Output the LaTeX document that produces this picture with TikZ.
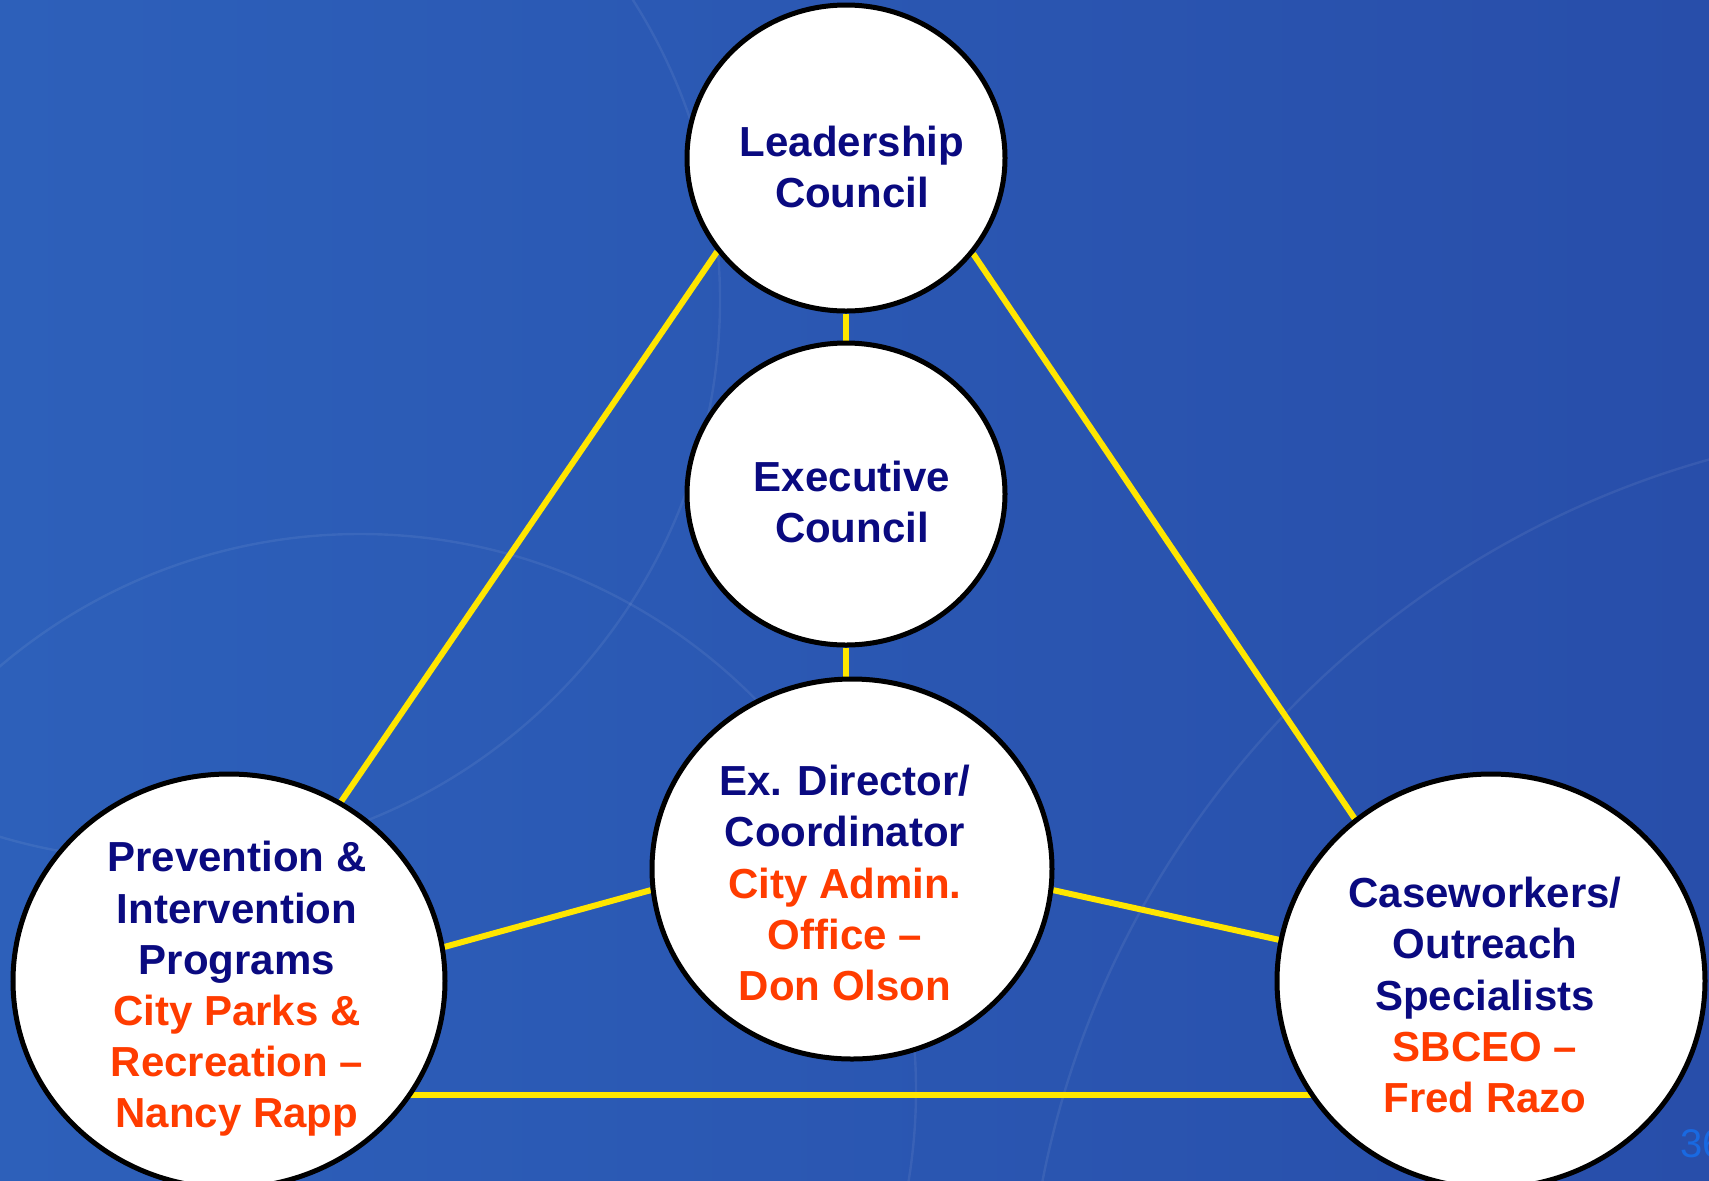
\documentclass[tikz,border=0pt]{standalone}
\usepackage{fontspec}
\setmainfont{Liberation Sans}
\usetikzlibrary{shapes.geometric}
\definecolor{bgL}{RGB}{45,96,186}
\definecolor{bgR}{RGB}{40,78,170}
\definecolor{navy}{RGB}{10,10,128}
\definecolor{orng}{RGB}{255,60,0}
\definecolor{ylw}{RGB}{255,230,0}
\definecolor{pgnum}{RGB}{25,105,225}
\pgfdeclarelayer{bg}
\pgfdeclarelayer{lines}
\pgfsetlayers{bg,lines,main}
\tikzset{
  circ/.style={ellipse, draw=black, line width=2.5pt, fill=white, inner sep=0pt},
  lbl/.style={align=center, font=\bfseries\fontsize{21}{25.6}\selectfont, text=navy, inner sep=0pt},
  link/.style={draw=ylw, line width=3pt},
  arcline/.style={draw=white, opacity=0.07, line width=1.2pt}
}
\newcommand{\org}[1]{\textcolor{orng}{#1}}
\begin{document}
\begin{tikzpicture}[x=0.5pt,y=-0.5pt]
\useasboundingbox (0,0) rectangle (1709,1180);
\begin{pgfonlayer}{bg}
  \shade[left color=bgL, right color=bgR] (0,0) rectangle (1709,1180);
  \draw[arcline] (360,1090) circle [radius=556];
  \draw[arcline] (1962,1362) circle [radius=937];
  \draw[arcline] (160,300) circle [radius=560];
\end{pgfonlayer}

% circles
\node[circ, minimum width=159pt, minimum height=153pt] (lead) at (846,158) {};
\node[circ, minimum width=159pt, minimum height=151pt] (exec) at (846,494) {};
\node[circ, minimum width=200pt, minimum height=190pt] (exdir) at (852,869) {};
\node[circ, minimum width=216pt, minimum height=207pt] (prev) at (229,981) {};
\node[circ, minimum width=214pt, minimum height=207pt] (case) at (1491,981) {};

% texts
\node[lbl] (leadT) at (852,167) {Leadership\\Council};
\node[lbl] (execT) at (852,502) {Executive\\Council};
\node[lbl] (exdirT) at (845,883) {Ex. Director/\\Coordinator\\\org{City Admin.}\\\org{Office --}\\\org{Don Olson}};
\node[lbl] (prevT) at (237,989) {Prevention \&\\Intervention\\Programs\\\org{City Parks \&}\\\org{Recreation --}\\\org{Nancy Rapp}};
\node[lbl] (caseT) at (1485,995) {Caseworkers/\\Outreach\\Specialists\\\org{SBCEO --}\\\org{Fred Razo}};

% page number
\node[anchor=base west, inner sep=0pt, text=pgnum, font=\fontsize{20}{24}\selectfont] (pg) at (1680,1157) {36};

% connectors
\begin{pgfonlayer}{lines}
  \draw[link] (lead.south) -- (exec.north);
  \draw[link] (exec.south) -- (exec.south |- exdir.north);
  \draw[link] (lead.216.4) -- (prev.58.8);
  \draw[link] (lead.323.8) -- (case.130.4);
  \draw[link] (prev.9.2) -- (exdir.186.6);
  \draw[link] (exdir.354.6) -- (case.169);
  \draw[link] ([yshift=-57pt]prev.center) -- ([yshift=-57pt]case.center);
\end{pgfonlayer}
\end{tikzpicture}
\end{document}
